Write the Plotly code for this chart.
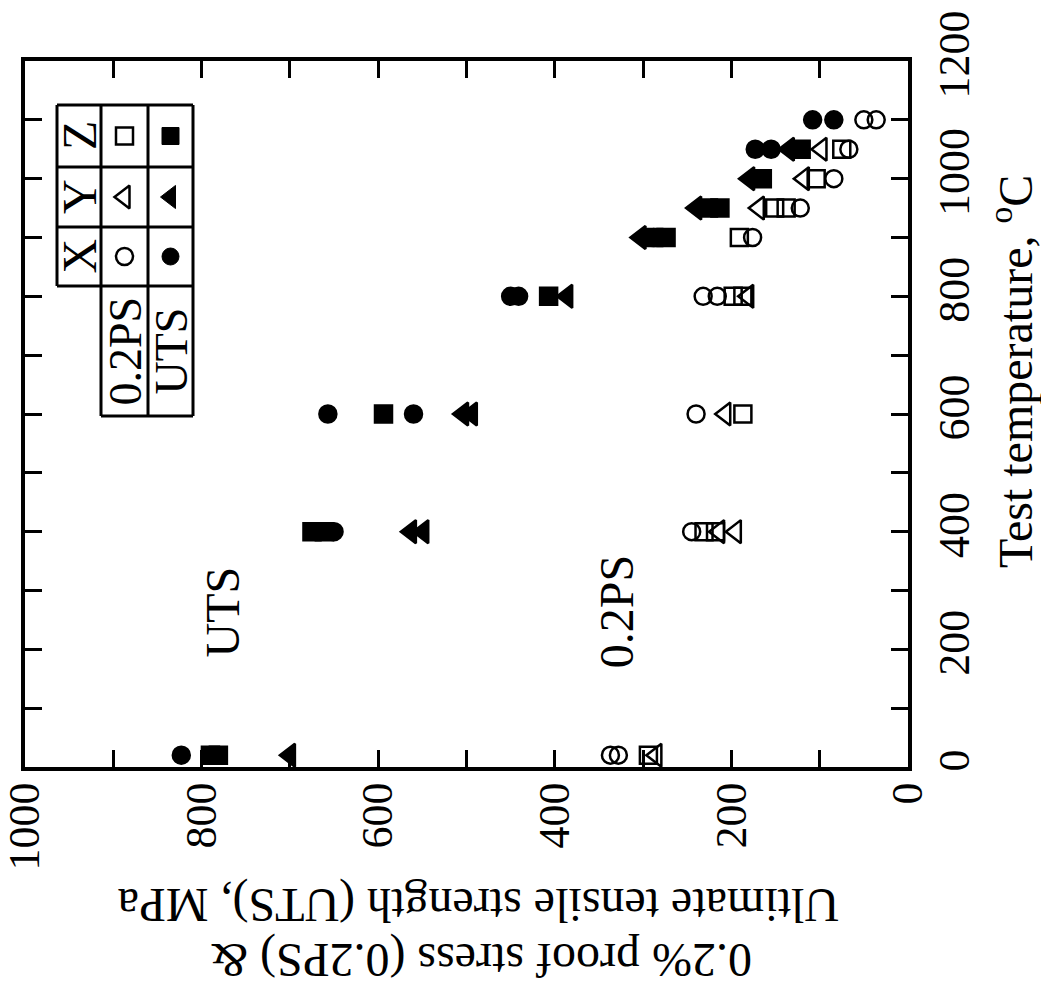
import plotly.graph_objects as go

# ---------------- data (stress in MPa vs test temperature in °C) ----------------
# Alloy X (circles), Y (left triangles), Z (squares); open = 0.2PS, filled = UTS
T_X_02PS = [20, 20, 400, 600, 800, 800, 900, 950, 1000, 1050, 1100, 1100]
S_X_02PS = [337, 328, 245, 240, 232, 216, 176, 122, 84, 67, 50, 36]

T_Y_02PS = [20, 400, 400, 600, 800, 950, 1000, 1050]
S_Y_02PS = [285, 214, 195, 207, 181, 169, 118, 98]

T_Z_02PS = [20, 400, 400, 600, 800, 800, 900, 950, 950, 1000, 1050]
S_Z_02PS = [294, 231, 218, 187, 198, 187, 191, 151, 138, 104, 75]

T_X_UTS = [20, 400, 600, 600, 800, 800, 900, 1050, 1050, 1100, 1100]
S_X_UTS = [823, 650, 657, 560, 450, 441, 288, 173, 155, 108, 84]

T_Y_UTS = [20, 400, 400, 600, 600, 800, 900, 950, 1000, 1050]
S_Y_UTS = [700, 563, 549, 504, 494, 386, 303, 240, 180, 135]

T_Z_UTS = [20, 20, 400, 400, 600, 800, 900, 900, 950, 950, 1000, 1050]
S_Z_UTS = [790, 781, 675, 661, 594, 407, 288, 274, 226, 213, 165, 121]

stress_ticks = [0, 200, 400, 600, 800, 1000]
temp_ticks = [0, 200, 400, 600, 800, 1000, 1200]

FONT = "Liberation Serif"
W, H = 1041, 997
L, R, T, B = 25, 908, 61, 767   # plot frame in pixels


def px(xp):
    return (xp - L) / (R - L)


def py(yp):
    return (B - yp) / (B - T)


fig = go.Figure()


def add(tx, sy, symbol, size, filled):
    fig.add_trace(go.Scatter(
        x=sy, y=tx, mode="markers", showlegend=False, cliponaxis=False,
        marker=dict(symbol=symbol if filled else symbol + "-open", size=size,
                    color="black", line=dict(color="black", width=2.5))))


add(T_Z_02PS, S_Z_02PS, "square", 17, False)
add(T_Y_02PS, S_Y_02PS, "triangle-left", 20, False)
add(T_X_02PS, S_X_02PS, "circle", 17, False)
add(T_Z_UTS, S_Z_UTS, "square", 17, True)
add(T_Y_UTS, S_Y_UTS, "triangle-left", 20, True)
add(T_X_UTS, S_X_UTS, "circle", 17, True)

# ---------------- legend table (pixel-referenced overlay axes) ----------------
tab_x = [57, 101, 148, 193]
tab_y = [105, 167, 227, 286, 416]
shapes = []
for yy in tab_y[:4]:
    shapes.append(dict(type="line", xref="x2", yref="y2", x0=tab_x[0], x1=tab_x[3], y0=yy, y1=yy))
shapes.append(dict(type="line", xref="x2", yref="y2", x0=tab_x[1], x1=tab_x[3], y0=tab_y[4], y1=tab_y[4]))
shapes.append(dict(type="line", xref="x2", yref="y2", x0=tab_x[0], x1=tab_x[0], y0=tab_y[0], y1=tab_y[3]))
for xx in tab_x[1:]:
    shapes.append(dict(type="line", xref="x2", yref="y2", x0=xx, x1=xx, y0=tab_y[0], y1=tab_y[4]))
for s in shapes:
    s["line"] = dict(color="black", width=3)

row_c = [(tab_y[i] + tab_y[i + 1]) / 2 for i in range(3)]
col_open = (tab_x[1] + tab_x[2]) / 2
col_fill = (tab_x[2] + tab_x[3]) / 2
leg_syms = ["square", "triangle-left", "circle"]
leg_sizes = [17, 20, 17]
for rc, sym, sz in zip(row_c, leg_syms, leg_sizes):
    fig.add_trace(go.Scatter(x=[col_open], y=[rc], xaxis="x2", yaxis="y2", mode="markers",
                             showlegend=False,
                             marker=dict(symbol=sym + "-open", size=sz, color="black",
                                         line=dict(color="black", width=2.5))))
    fig.add_trace(go.Scatter(x=[col_fill], y=[rc], xaxis="x2", yaxis="y2", mode="markers",
                             showlegend=False,
                             marker=dict(symbol=sym, size=sz, color="black",
                                         line=dict(color="black", width=1))))

BLACK = "black"
CEN = dict(xanchor="center", yanchor="middle", showarrow=False)
annotations = []
for rc, lab in zip(row_c, ["Z", "Y", "X"]):
    annotations.append(dict(x=(tab_x[0] + tab_x[1]) / 2, y=rc, xref="x2", yref="y2", text=lab,
                            textangle=-90, font=dict(family=FONT, size=48, color=BLACK), **CEN))
mid_lab = (tab_y[3] + tab_y[4]) / 2
annotations.append(dict(x=col_open, y=mid_lab, xref="x2", yref="y2", text="0.2PS",
                        textangle=-90, font=dict(family=FONT, size=46, color=BLACK), **CEN))
annotations.append(dict(x=col_fill, y=mid_lab, xref="x2", yref="y2", text="UTS",
                        textangle=-90, font=dict(family=FONT, size=46, color=BLACK), **CEN))

# in-plot labels
annotations.append(dict(x=776, y=264, xref="x", yref="y", text="UTS", textangle=-90,
                        font=dict(family=FONT, size=48, color=BLACK), **CEN))
annotations.append(dict(x=330, y=264, xref="x", yref="y", text="0.2PS", textangle=-90,
                        font=dict(family=FONT, size=48, color=BLACK), **CEN))

# axis titles (paper coordinates, outside the frame)
annotations.append(dict(x=px(1012), y=py(372), xref="paper", yref="paper",
                        text="Test temperature, <sup>o</sup>C",
                        textangle=-90, font=dict(family=FONT, size=48, color=BLACK), **CEN))
annotations.append(dict(x=px(478), y=py(905), xref="paper", yref="paper",
                        text="Ultimate tensile strength (UTS), MPa",
                        textangle=180, font=dict(family=FONT, size=48, color=BLACK), **CEN))
annotations.append(dict(x=px(482), y=py(960), xref="paper", yref="paper",
                        text="0.2% proof stress (0.2PS) &",
                        textangle=180, font=dict(family=FONT, size=48, color=BLACK), **CEN))

axis_common = dict(showline=True, linewidth=4, linecolor="black", mirror="allticks",
                   ticks="inside", ticklen=17, tickwidth=3, tickcolor="black",
                   showgrid=False, zeroline=False, tickangle=-90,
                   tickfont=dict(family=FONT, size=44, color="black"),
                   minor=dict(ticks="inside", ticklen=17, tickwidth=3, tickcolor="black",
                              dtick=100, tick0=0, showgrid=False))

fig.update_layout(
    template="none",
    font=dict(family=FONT, color="black"),
    width=W, height=H,
    margin=dict(l=L, r=W - R, t=T, b=H - B),
    paper_bgcolor="white", plot_bgcolor="white",
    xaxis=dict(range=[1000, 0], tickvals=stress_ticks, ticklabelstandoff=-6, **axis_common),
    yaxis=dict(range=[0, 1200], tickvals=temp_ticks, side="right", ticklabelstandoff=4,
               **axis_common),
    xaxis2=dict(overlaying="x", range=[L, R], visible=False),
    yaxis2=dict(overlaying="y", range=[B, T], visible=False),
    shapes=shapes, annotations=annotations,
)

fig.write_html("out.html")
